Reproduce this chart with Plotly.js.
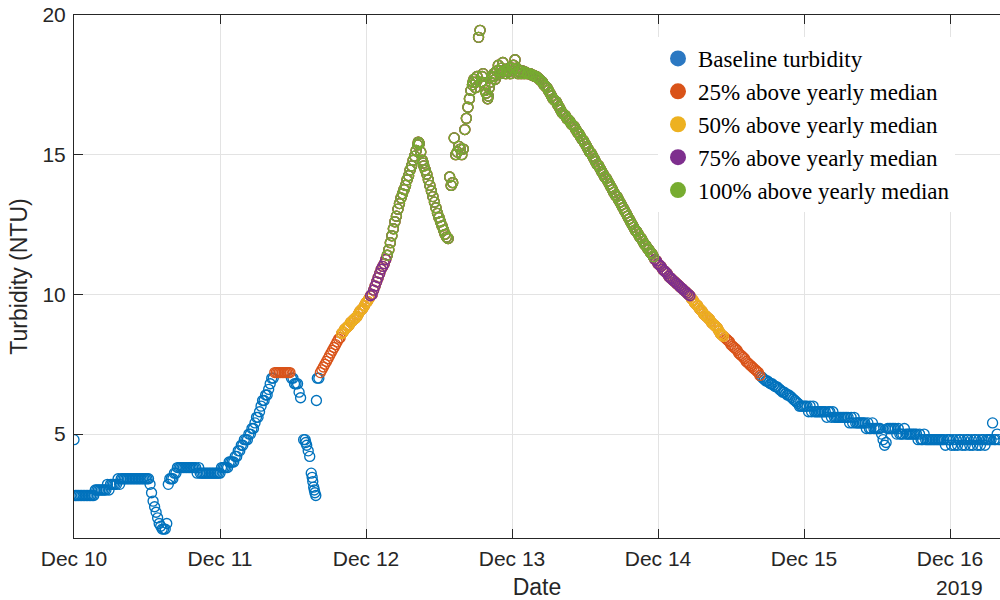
<!DOCTYPE html>
<html>
<head>
<meta charset="utf-8">
<script src="https://cdn.plot.ly/plotly-3.0.1.min.js"></script>
<style>
  html, body { margin: 0; padding: 0; background: #ffffff; overflow: hidden; }
  #chart { width: 1000px; height: 600px; }
</style>
</head>
<body>
<div id="chart"></div>
<script>
// ---- Data ----
// Turbidity (NTU) logged every 15 minutes, one row = one hour (4 readings), one array per day.
const intervalHours = 0.25;
const yearlyMedian = 5.65;   // NTU, implied by the colour thresholds
const levelFactors = [1.25, 1.5, 1.75, 2.0];
const seriesNames = ['Baseline turbidity', '25% above yearly median', '50% above yearly median',
                     '75% above yearly median', '100% above yearly median'];
const seriesColors = ['#0072BD', '#D95319', '#EDB120', '#7E2F8E', '#77AC30'];
const legendColors = ['#2B78C2', '#D95319', '#EDB120', '#7E2F8E', '#77AC30'];
const tickDays = ['2019-12-10', '2019-12-11', '2019-12-12', '2019-12-13', '2019-12-14', '2019-12-15', '2019-12-16'];
const tickLabels = ['Dec 10', 'Dec 11', 'Dec 12', 'Dec 13', 'Dec 14', 'Dec 15', 'Dec 16'];
const yTicks = [5, 10, 15, 20];

const dec10Ntu = [
  4.8, 2.8, 2.8, 2.8,   2.8, 2.8, 2.8, 2.8,   2.8, 2.8, 2.8, 2.8,   2.8, 2.8, 3.0, 3.0,
  3.0, 3.0, 3.0, 3.0,   3.0, 3.0, 3.2, 3.0,   3.2, 3.2, 3.2, 3.2,   3.2, 3.4, 3.2, 3.4,
  3.4, 3.4, 3.4, 3.4,   3.4, 3.4, 3.4, 3.4,   3.4, 3.4, 3.4, 3.4,   3.4, 3.4, 3.4, 3.4,
  3.4, 3.4, 3.2, 2.9,   2.6, 2.4, 2.2, 2.0,   1.8, 1.7, 1.6, 1.6,   1.6, 1.8, 3.2, 3.4,
  3.4, 3.4, 3.6, 3.6,   3.8, 3.8, 3.8, 3.8,   3.8, 3.8, 3.8, 3.8,   3.8, 3.8, 3.8, 3.8,
  3.8, 3.6, 3.8, 3.6,   3.6, 3.6, 3.6, 3.6,   3.6, 3.6, 3.6, 3.6,   3.6, 3.6, 3.6, 3.6
];
const dec11Ntu = [
  3.6, 3.8, 3.8, 3.8,   3.8, 3.8, 4.0, 4.0,   4.0, 4.0, 4.2, 4.2,   4.4, 4.4, 4.6, 4.6,
  4.8, 4.8, 4.8, 5.0,   5.0, 5.2, 5.2, 5.4,   5.6, 5.6, 5.8, 6.0,   6.2, 6.2, 6.4, 6.4,
  6.6, 6.8, 7.0, 7.0,   7.2, 7.2, 7.2, 7.2,   7.2, 7.2, 7.2, 7.2,   7.2, 7.2, 7.2, 7.0,
  7.0, 6.8, 6.8, 6.8,   6.5, 6.3, null, 4.8,  4.8, 4.6, 4.4, 4.2,   3.6, 3.3, 3.0, 2.8,
  7.0, 7.0, 7.2, 7.3,   7.4, 7.5, 7.6, 7.7,   7.8, 7.9, 8.0, 8.1,   8.2, 8.3, 8.4, 8.45,
  8.6, 8.65, 8.75, 8.8, 8.85, 8.9, 9.0, 9.05, 9.1, 9.15, 9.2, 9.3,  9.4, 9.45, 9.5, 9.6
];
const dec12Ntu = [
  9.7, 9.75, 9.85, 9.95,     10.0, 10.15, 10.3, 10.45,  10.6, 10.75, 10.9, 11.0,   11.1, 11.25, 11.4, 11.6,
  11.85, 12.1, 12.35, 12.6,  12.8, 13.05, 13.25, 13.45, 13.6, 13.75, 13.9, 14.1,   14.25, 14.45, 14.6, 14.8,
  14.95, 15.15, 15.35, 15.4, 15.1, 14.8, 14.6, 14.45,   14.3, 14.1, 13.9, 13.7,    13.5, 13.3, 13.1, 12.9,
  12.75, 12.6, 12.45, 12.3,  12.15, 12.05, 12.0, 14.2,  13.9, 14.0, 15.6, 15.0,    15.1, 15.3, 15.2, 15.0,
  15.2, 15.9, 16.3, 16.7,    17.0, 17.3, 17.5, 17.7,    17.4, 17.8, 19.2, 19.45,   17.6, 17.9, 17.5, 17.2,
  17.0, 17.4, 17.6, 17.8,    17.9, 17.7, 18.0, 18.2,    17.9, 18.1, 18.3, 18.0,    17.9, 18.0, 18.1, 17.9
];
const dec13Ntu = [
  18.0, 18.2, 18.4, 18.1,    17.9, 18.0, 17.9, 18.0,    17.9, 17.95, 17.9, 17.9,   17.9, 17.85, 17.85, 17.8,
  17.8, 17.75, 17.7, 17.65,  17.6, 17.5, 17.45, 17.4,   17.3, 17.2, 17.1, 17.0,    16.95, 16.9, 16.8, 16.7,
  16.6, 16.5, 16.45, 16.4,   16.3, 16.25, 16.2, 16.1,   16.05, 16.0, 15.9, 15.8,   15.75, 15.65, 15.55, 15.5,
  15.4, 15.3, 15.2, 15.1,    15.05, 14.95, 14.85, 14.75, 14.65, 14.6, 14.5, 14.4,  14.3, 14.2, 14.15, 14.05,
  13.95, 13.85, 13.75, 13.65, 13.55, 13.5, 13.4, 13.3,  13.2, 13.1, 13.0, 12.9,    12.8, 12.7, 12.6, 12.5,
  12.4, 12.3, 12.25, 12.15,  12.05, 12.0, 11.9, 11.8,   11.75, 11.65, 11.6, 11.5,  11.45, 11.35, 11.25, 11.2
];
const dec14Ntu = [
  11.1, 11.05, 11.0, 10.9,   10.85, 10.8, 10.75, 10.65, 10.6, 10.55, 10.5, 10.45,  10.4, 10.35, 10.3, 10.25,
  10.2, 10.15, 10.1, 10.05,  10.0, 9.95, 9.85, 9.8,     9.7, 9.65, 9.6, 9.5,       9.45, 9.4, 9.3, 9.25,
  9.2, 9.15, 9.1, 9.0,       8.95, 8.9, 8.85, 8.8,      8.7, 8.6, 8.55, 8.5,       8.45, 8.4, 8.35, 8.3,
  8.2, 8.15, 8.1, 8.05,      8.0, 7.9, 7.85, 7.8,       7.75, 7.7, 7.6, 7.55,      7.5, 7.45, 7.4, 7.35,
  7.3, 7.25, 7.2, 7.1,       7.05, 7.0, 6.95, 6.9,      6.9, 6.85, 6.8, 6.8,       6.75, 6.7, 6.7, 6.65,
  6.6, 6.55, 6.5, 6.5,       6.45, 6.4, 6.4, 6.35,      6.3, 6.25, 6.2, 6.15,      6.1, 6.0, 6.0, 6.0
];
const dec15Ntu = [
  6.0, 6.0, 6.0, 5.8,   6.0, 5.8, 6.0, 5.8,   5.8, 5.8, 5.8, 5.8,   5.8, 5.8, 5.8, 5.6,
  5.8, 5.8, 5.6, 5.8,   5.6, 5.6, 5.6, 5.6,   5.6, 5.6, 5.6, 5.6,   5.6, 5.6, 5.4, 5.6,
  5.4, 5.6, 5.4, 5.4,   5.4, 5.4, 5.4, 5.4,   5.4, 5.2, 5.4, 5.2,   5.2, 5.4, 5.2, 5.2,
  5.2, 5.2, 5.2, 5.0,   4.8, 4.6, 4.7, 5.2,   5.2, 5.2, 5.2, 5.2,   5.2, 5.0, 5.2, 5.0,
  5.0, 5.0, 5.2, 5.0,   5.0, 5.0, 5.0, 5.0,   5.0, 5.0, 5.0, 4.8,   5.0, 4.8, 4.8, 5.0,
  4.8, 4.8, 4.8, 4.8,   4.8, 4.8, 4.8, 4.8,   4.8, 4.8, 4.8, 4.8,   4.8, 4.6, 4.8, 4.8
];
const dec16Ntu = [
  4.8, 4.6, 4.8, 4.6,   4.8, 4.6, 4.8, 4.8,   4.6, 4.8, 4.6, 4.8,   4.8, 4.6, 4.8, 4.6,
  4.8, 4.8, 4.6, 4.8,   4.6, 4.8, 4.8, 4.6,   4.8, 4.8, 4.8, 4.8,   5.4, 4.8, 4.8, 5.0,
  4.8
];
// a few extra readings that fall between the 15-minute marks (hours since Dec 10 00:00)
const extraHours = [38.1, 39.15, 39.4, 39.6, 39.85, 56.6, 57.4, 65.6, 66.1, 67.1, 67.6, 68.1, 69.1, 70.1, 71.1, 72.1, 73.1];
const extraNtu   = [4.7, 3.45, 3.1, 2.9, 6.2, 15.45, 14.7, 17.6, 17.6, 17.8, 17.3, 17.1, 17.8, 18.0, 18.0, 18.1, 18.0];

// ---- Build traces ----
const t0 = Date.UTC(2019, 11, 10);
function hoursToDate(h) {
  return new Date(t0 + h * 3600000).toISOString().replace('T', ' ').slice(0, 19);
}
const days = [dec10Ntu, dec11Ntu, dec12Ntu, dec13Ntu, dec14Ntu, dec15Ntu, dec16Ntu];
const allHours = [], allNtu = [];
days.forEach((arr, d) => {
  arr.forEach((v, i) => {
    if (v !== null) { allHours.push(24 * d + i * intervalHours); allNtu.push(v); }
  });
});
extraHours.forEach((h, i) => { allHours.push(h); allNtu.push(extraNtu[i]); });

const thresholds = levelFactors.map(f => f * yearlyMedian);
const traces = [];
for (let k = 0; k < 5; k++) {
  const xs = [], ys = [];
  for (let i = 0; i < allNtu.length; i++) {
    const v = allNtu[i];
    const inSeries = (k === 0) ? v < thresholds[0] : v >= thresholds[k - 1];
    if (inSeries) { xs.push(hoursToDate(allHours[i])); ys.push(v); }
  }
  traces.push({
    type: 'scatter', mode: 'markers', x: xs, y: ys, name: seriesNames[k],
    showlegend: false, hoverinfo: 'x+y',
    marker: { symbol: 'circle-open', size: 10, color: seriesColors[k], line: { width: 1.35, color: seriesColors[k] } }
  });
}
// legend entries (filled dots like the original legend)
for (let k = 0; k < 5; k++) {
  traces.push({
    type: 'scatter', mode: 'markers', x: [null], y: [null], name: seriesNames[k],
    showlegend: true, hoverinfo: 'skip',
    marker: { symbol: 'circle', size: 16, color: legendColors[k] }
  });
}

const layout = {
  width: 1000, height: 600,
  margin: { l: 74, r: 0, t: 15, b: 62, pad: 0 },
  paper_bgcolor: '#ffffff', plot_bgcolor: '#ffffff',
  font: { family: '"Liberation Sans", Arial, Helvetica, sans-serif', color: '#262626', size: 21 },
  showlegend: true,
  xaxis: {
    type: 'date', range: [hoursToDate(0), hoursToDate(152.22)], autorange: false,
    tickmode: 'array', tickvals: tickDays, ticktext: tickLabels,
    ticks: 'inside', ticklen: 9, tickwidth: 1, tickcolor: '#262626',
    showline: true, linecolor: '#262626', linewidth: 1, mirror: 'ticks',
    showgrid: true, gridcolor: '#e3e3e3', gridwidth: 1, zeroline: false,
    tickfont: { size: 21, color: '#262626' }, ticklabelstandoff: 2, automargin: false,
    title: { text: 'Date', font: { size: 23, color: '#262626' }, standoff: 10 }
  },
  yaxis: {
    range: [1.28, 20], autorange: false,
    tickmode: 'array', tickvals: yTicks,
    ticks: 'inside', ticklen: 9, tickwidth: 1, tickcolor: '#262626',
    showline: true, linecolor: '#262626', linewidth: 1, mirror: false,
    showgrid: true, gridcolor: '#e3e3e3', gridwidth: 1, zeroline: false,
    tickfont: { size: 21, color: '#262626' }, ticklabelstandoff: 3, automargin: false,
    title: { text: 'Turbidity (NTU)', font: { size: 23, color: '#262626' }, standoff: 8 }
  },
  legend: {
    x: (658 - 74) / 926, y: 1 - (37 - 15) / 523, xanchor: 'left', yanchor: 'top',
    bgcolor: '#ffffff', borderwidth: 0,
    font: { family: '"Liberation Serif", "Times New Roman", Times, serif', size: 23, color: '#000000' },
    itemsizing: 'trace', tracegroupgap: 0
  },
  annotations: [{
    text: '2019', xref: 'paper', yref: 'paper', x: (985 - 74) / 926, y: -(587 - 538) / 523,
    xanchor: 'right', yanchor: 'middle', showarrow: false,
    font: { size: 21, color: '#262626' }
  }]
};

Plotly.newPlot('chart', traces, layout, { displayModeBar: false, staticPlot: true });
</script>
</body>
</html>
